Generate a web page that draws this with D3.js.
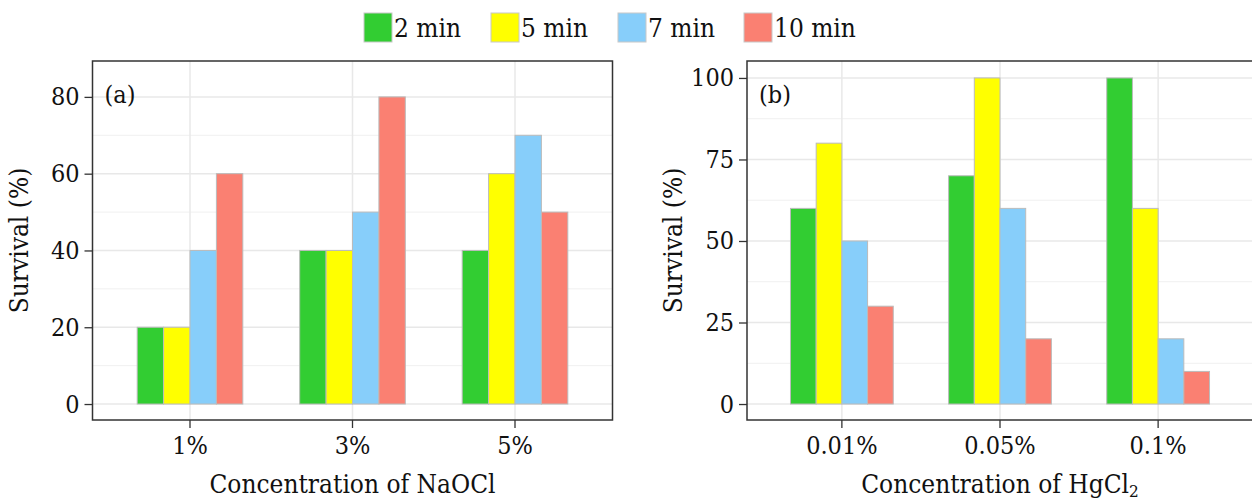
<!DOCTYPE html>
<html>
<head>
<meta charset="utf-8">
<script src="https://cdn.jsdelivr.net/npm/d3@7"></script>
<style>
  body { margin: 0; background: #fff; }
  svg text { font-family: "DejaVu Serif Condensed", "DejaVu Serif", serif; font-stretch: condensed; fill: #111; }
</style>
</head>
<body>
<div class="canvas"></div>
<script>
// data
const series = ['2 min', '5 min', '7 min', '10 min']
const colors = ['#32cd32', '#ffff00', '#87cefa', '#fa8072']

const naoclCats = ['1%', '3%', '5%']
const naocl2 = [20, 40, 40]
const naocl5 = [20, 40, 60]
const naocl7 = [40, 50, 70]
const naocl10 = [60, 80, 50]
const naoclTicks = [0, 20, 40, 60, 80]
const naoclMinor = [10, 30, 50, 70]

const hgclCats = ['0.01%', '0.05%', '0.1%']
const hgcl2 = [60, 70, 100]
const hgcl5 = [80, 100, 60]
const hgcl7 = [50, 60, 20]
const hgcl10 = [30, 20, 10]
const hgclTicks = [0, 25, 50, 75, 100]
const hgclMinor = [12.5, 37.5, 62.5, 87.5]

const svg = d3.select('.canvas')
    .append('svg')
    .attr('width', 1252)
    .attr('height', 501)

const fs = 25      // tick labels, tags
const fsTitle = 26 // axis titles, legend

function panel(opts) {
    const { left, right, top, bottom, cats, vals, domain, ticks, minor, tag, xTitle } = opts
    const g = svg.append('g')

    const x = d3.scaleBand()
        .domain(cats)
        .range([left, right])
        .paddingInner(0)
        .paddingOuter(0.1)
    const y = d3.scaleLinear().domain(domain).range([bottom, top])

    // grid
    g.selectAll('.minor').data(minor).enter().append('line')
        .attr('x1', left).attr('x2', right)
        .attr('y1', d => y(d)).attr('y2', d => y(d))
        .attr('stroke', '#f0f0f0').attr('stroke-width', 1)
    g.selectAll('.major').data(ticks).enter().append('line')
        .attr('x1', left).attr('x2', right)
        .attr('y1', d => y(d)).attr('y2', d => y(d))
        .attr('stroke', '#e8e8e8').attr('stroke-width', 1.5)
    g.selectAll('.vgrid').data(cats).enter().append('line')
        .attr('x1', d => x(d) + x.bandwidth() / 2).attr('x2', d => x(d) + x.bandwidth() / 2)
        .attr('y1', top).attr('y2', bottom)
        .attr('stroke', '#e8e8e8').attr('stroke-width', 1.5)

    // bars
    const inner = d3.scaleBand()
        .domain(series)
        .range([0, x.bandwidth() * 0.65])
    const off = x.bandwidth() * 0.175
    series.forEach((s, i) => {
        g.selectAll('.bar' + i).data(vals[i]).enter().append('rect')
            .attr('x', (d, j) => x(cats[j]) + off + inner(s))
            .attr('y', d => y(d))
            .attr('width', inner.bandwidth())
            .attr('height', d => y(0) - y(d))
            .attr('fill', colors[i])
            .attr('stroke', '#bbbbbb')
            .attr('stroke-width', 1)
    })

    // border
    g.append('rect')
        .attr('x', left).attr('y', top)
        .attr('width', right - left).attr('height', bottom - top)
        .attr('fill', 'none').attr('stroke', '#333').attr('stroke-width', 1.5)

    // axes
    const yAxis = d3.axisLeft(y).tickValues(ticks).tickSize(8).tickPadding(5)
    const yg = g.append('g').attr('transform', `translate(${left},0)`).call(yAxis)
    const xAxis = d3.axisBottom(x).tickSize(8).tickPadding(8)
    const xg = g.append('g').attr('transform', `translate(0,${bottom})`).call(xAxis)
    ;[yg, xg].forEach(a => {
        a.select('.domain').remove()
        a.selectAll('line').attr('stroke', '#333').attr('stroke-width', 1.3)
        a.selectAll('text').attr('font-size', fs).attr('fill', '#111')
            .attr('font-family', null)
    })

    g.append('text').attr('x', left + 12).attr('y', top + 42)
        .attr('font-size', fs).text(tag)

    g.append('text')
        .attr('transform', `translate(${left - 65},${(top + bottom) / 2}) rotate(-90)`)
        .attr('text-anchor', 'middle').attr('font-size', fsTitle)
        .text('Survival (%)')

    const t = g.append('text').attr('x', (left + right) / 2).attr('y', 493)
        .attr('text-anchor', 'middle').attr('font-size', fsTitle)
    xTitle(t)
}

panel({
    left: 92.5, right: 612.5, top: 61, bottom: 420,
    cats: naoclCats, vals: [naocl2, naocl5, naocl7, naocl10],
    domain: [-4.16, 89.35], ticks: naoclTicks, minor: naoclMinor, tag: '(a)',
    xTitle: t => t.text('Concentration of NaOCl')
})

panel({
    left: 747, right: 1253, top: 61, bottom: 420,
    cats: hgclCats, vals: [hgcl2, hgcl5, hgcl7, hgcl10],
    domain: [-4.9, 105.2], ticks: hgclTicks, minor: hgclMinor, tag: '(b)',
    xTitle: t => {
        t.append('tspan').text('Concentration of HgCl')
        t.append('tspan').attr('font-size', 17).attr('dy', 4).text('2')
    }
})

// legend
const legendX = [364, 491, 618, 744]
const leg = svg.append('g')
series.forEach((s, i) => {
    leg.append('rect')
        .attr('x', legendX[i]).attr('y', 13)
        .attr('width', 28).attr('height', 29)
        .attr('fill', colors[i]).attr('stroke', '#c8c8c8').attr('stroke-width', 1)
    leg.append('text')
        .attr('x', legendX[i] + 30).attr('y', 37)
        .attr('font-size', fsTitle).text(s)
})
</script>
</body>
</html>
